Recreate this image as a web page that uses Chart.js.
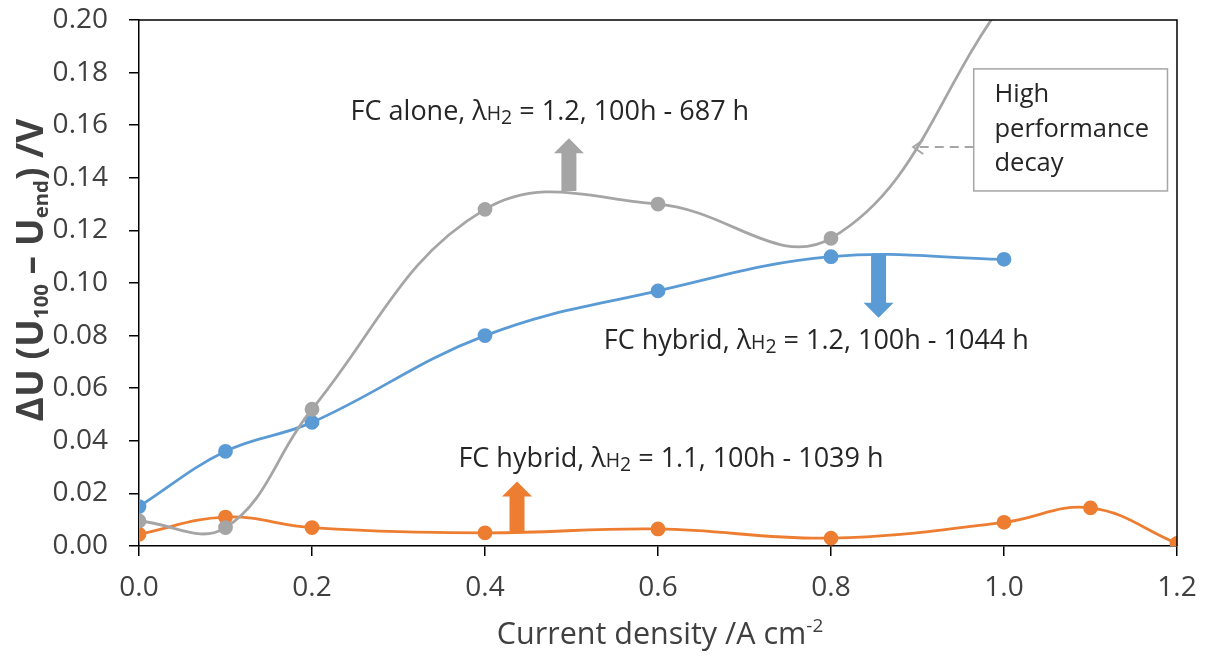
<!DOCTYPE html>
<html>
<head>
<meta charset="utf-8">
<script src="https://cdn.jsdelivr.net/npm/chart.js@4.4.1/dist/chart.umd.min.js"></script>
<style>
  html, body { margin: 0; padding: 0; background: #fff; }
  #wrap { width: 1209px; height: 659px; }
</style>
</head>
<body>
<div id="wrap"><canvas id="chart" width="1209" height="659"></canvas></div>
<script>
// current density /A cm-2 for each series
const xAlone = [0.0, 0.1, 0.2, 0.4, 0.6, 0.8, 1.0];
const yAlone = [0.0095, 0.007, 0.052, 0.128, 0.130, 0.117, 0.207];

const xHybrid12 = [0.0, 0.1, 0.2, 0.4, 0.6, 0.8, 1.0];
const yHybrid12 = [0.015, 0.036, 0.047, 0.080, 0.097, 0.110, 0.109];

const xHybrid11 = [0.0, 0.1, 0.2, 0.4, 0.6, 0.8, 1.0, 1.1, 1.2];
const yHybrid11 = [0.0045, 0.011, 0.007, 0.005, 0.0065, 0.003, 0.009, 0.0145, 0.001];

const xTicks = [0.0, 0.2, 0.4, 0.6, 0.8, 1.0, 1.2];
const yTicks = [0.00, 0.02, 0.04, 0.06, 0.08, 0.10, 0.12, 0.14, 0.16, 0.18, 0.20];

const FONT = "'Open Sans', sans-serif";
const GRAY = "#A5A5A5", BLUE = "#5B9BD5", ORANGE = "#ED7D31";

function toPoints(xs, ys) {
    return xs.map((x, i) => ({ x: x, y: ys[i] }));
}

function series(label, xs, ys, color) {
    return {
        label: label,
        data: toPoints(xs, ys),
        showLine: true,
        borderColor: color,
        backgroundColor: color,
        borderWidth: 2.8,
        pointRadius: 6,
        pointHoverRadius: 6,
        tension: 0.4
    };
}

// text pieces: [text, sizeFactor, baselineShift]
function lambdaLabel(pre, post) {
    return [[pre, 1, 0], ["λ", 1, 0], ["H", 0.72, 0], ["2", 0.72, 4], [post, 1, 0]];
}

const notes = [
    { parts: lambdaLabel("FC alone, ", " = 1.2, 100h - 687 h"), x: 0.475, y: 0.1655 },
    { parts: lambdaLabel("FC hybrid, ", " = 1.2, 100h - 1044 h"), x: 0.783, y: 0.0785 },
    { parts: lambdaLabel("FC hybrid, ", " = 1.1, 100h - 1039 h"), x: 0.615, y: 0.0335 }
];

const blockArrows = [
    { x: 0.497, from: 0.135, to: 0.155, color: "#A5A5A5" },
    { x: 0.855, from: 0.1112, to: 0.0868, color: BLUE },
    { x: 0.437, from: 0.0055, to: 0.0245, color: ORANGE }
];

function drawRich(ctx, parts, cx, cy, size, bold) {
    const weight = bold ? "bold " : "";
    let total = 0;
    parts.forEach(p => {
        ctx.font = weight + (size * p[1]) + "px " + FONT;
        total += ctx.measureText(p[0]).width;
    });
    let x = cx - total / 2;
    ctx.textAlign = "left";
    ctx.textBaseline = "alphabetic";
    parts.forEach(p => {
        ctx.font = weight + (size * p[1]) + "px " + FONT;
        ctx.fillText(p[0], x, cy + p[2]);
        x += ctx.measureText(p[0]).width;
    });
}

function drawBlockArrow(ctx, x, y0, y1, color) {
    const dir = y1 < y0 ? -1 : 1;
    const shaft = 7.5, head = 15, headLen = 15;
    const yb = y1 - dir * headLen;
    ctx.fillStyle = color;
    ctx.beginPath();
    ctx.moveTo(x - shaft, y0);
    ctx.lineTo(x - shaft, yb);
    ctx.lineTo(x - head, yb);
    ctx.lineTo(x, y1);
    ctx.lineTo(x + head, yb);
    ctx.lineTo(x + shaft, yb);
    ctx.lineTo(x + shaft, y0);
    ctx.closePath();
    ctx.fill();
}

const annotations = {
    id: "annotations",
    afterDatasetsDraw(chart) {
        const ctx = chart.ctx;
        const xs = chart.scales.x, ys = chart.scales.y;
        const area = chart.chartArea;
        ctx.save();

        // plot area frame (top and right)
        ctx.strokeStyle = "#000";
        ctx.lineWidth = 1.5;
        ctx.beginPath();
        ctx.moveTo(area.left, area.top);
        ctx.lineTo(area.right, area.top);
        ctx.lineTo(area.right, area.bottom);
        ctx.stroke();

        blockArrows.forEach(a => {
            drawBlockArrow(ctx, xs.getPixelForValue(a.x), ys.getPixelForValue(a.from),
                ys.getPixelForValue(a.to), a.color);
        });

        ctx.fillStyle = "#262626";
        notes.forEach(n => {
            drawRich(ctx, n.parts, xs.getPixelForValue(n.x), ys.getPixelForValue(n.y) + 9, 27, false);
        });

        // text box
        const bx0 = xs.getPixelForValue(0.965), bx1 = xs.getPixelForValue(1.189);
        const by0 = ys.getPixelForValue(0.1814), by1 = ys.getPixelForValue(0.135);
        ctx.fillStyle = "#fff";
        ctx.fillRect(bx0, by0, bx1 - bx0, by1 - by0);
        ctx.strokeStyle = "#A6A6A6";
        ctx.lineWidth = 1.5;
        ctx.strokeRect(bx0, by0, bx1 - bx0, by1 - by0);
        ctx.fillStyle = "#262626";
        ctx.font = "25.5px " + FONT;
        ctx.textAlign = "left";
        ctx.textBaseline = "alphabetic";
        const tx = xs.getPixelForValue(0.989);
        ["High", "performance", "decay"].forEach((t, i) => {
            ctx.fillText(t, tx, ys.getPixelForValue(0.1722 - i * 0.0131) + 9);
        });

        // dashed pointer
        const ay = ys.getPixelForValue(0.1517);
        const ax0 = bx0, ax1 = xs.getPixelForValue(0.895);
        ctx.strokeStyle = "#A6A6A6";
        ctx.lineWidth = 2;
        ctx.setLineDash([9, 6]);
        ctx.beginPath();
        ctx.moveTo(ax0, ay);
        ctx.lineTo(ax1 + 2, ay);
        ctx.stroke();
        ctx.setLineDash([]);
        ctx.beginPath();
        ctx.moveTo(ax1 + 10, ay - 7);
        ctx.lineTo(ax1, ay);
        ctx.lineTo(ax1 + 10, ay + 7);
        ctx.stroke();

        // axis titles
        ctx.fillStyle = "#404040";
        drawRich(ctx, [["Current density /A cm", 1, 0], ["-2", 0.62, -12]],
            (area.left + area.right) / 2 + 2, 644, 30.5, false);

        ctx.translate(43, 270);
        ctx.rotate(-Math.PI / 2);
        drawRich(ctx, [["ΔU (U", 1, 0], ["100", 0.55, 5], [" – U", 1, 0], ["end", 0.55, 5], [") /V", 1, 0]],
            0, 0, 37, true);
        ctx.restore();
    }
};

new Chart(document.getElementById("chart"), {
    type: "scatter",
    data: {
        datasets: [
            series("FC alone, λH2 = 1.2", xAlone, yAlone, GRAY),
            series("FC hybrid, λH2 = 1.2", xHybrid12, yHybrid12, BLUE),
            series("FC hybrid, λH2 = 1.1", xHybrid11, yHybrid11, ORANGE)
        ]
    },
    options: {
        responsive: false,
        animation: false,
        layout: { padding: { left: 0, right: 32, top: 20, bottom: 0 } },
        plugins: {
            legend: { display: false },
            tooltip: { enabled: false }
        },
        scales: {
            x: {
                type: "linear",
                min: 0,
                max: 1.2,
                afterBuildTicks: s => { s.ticks = xTicks.map(v => ({ value: v })); },
                afterFit: s => { s.height = 113; s.paddingLeft = 0; s.paddingRight = 0; },
                ticks: {
                    color: "#404040",
                    font: { family: FONT, size: 28 },
                    padding: 15,
                    maxRotation: 0,
                    callback: v => Number(v).toFixed(1)
                },
                grid: { display: true, drawOnChartArea: false, drawTicks: true, tickLength: 10, color: "#000", lineWidth: 1.5 },
                border: { display: true, color: "#000", width: 1.5 }
            },
            y: {
                type: "linear",
                min: 0,
                max: 0.2,
                afterBuildTicks: s => { s.ticks = yTicks.map(v => ({ value: v })); },
                afterFit: s => { s.width = 139; s.paddingTop = 0; s.paddingBottom = 0; },
                ticks: {
                    color: "#404040",
                    font: { family: FONT, size: 28 },
                    padding: 21,
                    callback: v => Number(v).toFixed(2)
                },
                grid: { display: true, drawOnChartArea: false, drawTicks: true, tickLength: 10, color: "#000", lineWidth: 1.5 },
                border: { display: true, color: "#000", width: 1.5 }
            }
        }
    },
    plugins: [annotations]
});
</script>
</body>
</html>
